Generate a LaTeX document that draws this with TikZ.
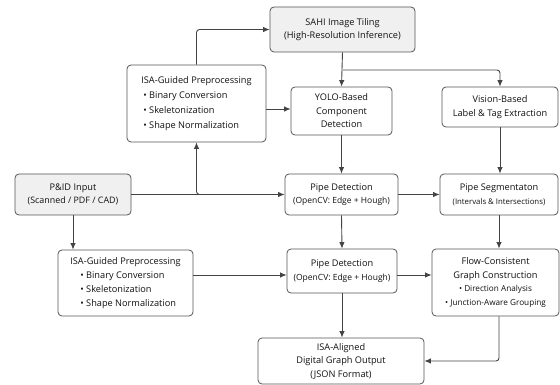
\documentclass[tikz,border=0pt]{standalone}
\usepackage{fontspec}
\setmainfont{Open Sans}
\usetikzlibrary{arrows.meta}
\definecolor{boxc}{HTML}{555555}
\definecolor{linec}{HTML}{444444}
\definecolor{gfill}{HTML}{F0F0F0}
\definecolor{txtc}{HTML}{111111}
\begin{document}
\begin{tikzpicture}[x=1pt,y=-1pt,
  box/.style={draw=boxc, line width=0.8pt, rounded corners=4pt, fill=white, inner sep=0pt,
    align=center, text=txtc, font=\fontsize{9.2}{13.5}\selectfont},
  gbox/.style={box, fill=gfill},
  conn/.style={draw=linec, line width=0.9pt, -{Latex[length=6.5pt,width=5.5pt]}, rounded corners=3pt}]
\fill[white] (0,0) rectangle (560,385);
\useasboundingbox (0,0) rectangle (560,385);
\newcommand{\sm}{\fontsize{8.5}{12}\selectfont}
\newcommand{\smb}{\fontsize{7.8}{11.5}\selectfont}
\newcommand{\bl}{\textbullet\ }

\node[gbox, minimum width=145pt, minimum height=45pt] (sahi) at (342.5,29.5)
  {SAHI Image Tiling\\(High-Resolution Inference)};
\node[box, minimum width=139pt, minimum height=77pt, align=left, font=\fontsize{9.2}{15}\selectfont] (isa1) at (196.5,103.5)
  {ISA-Guided Preprocessing\\\hspace*{2pt}\bl Binary Conversion\\\hspace*{2pt}\bl Skeletonization\\\hspace*{2pt}\bl Shape Normalization};
\node[box, minimum width=101pt, minimum height=48pt] (yolo) at (341.5,111)
  {YOLO-Based\\Component\\Detection};
\node[box, minimum width=116pt, minimum height=40pt] (vis) at (500,107)
  {Vision-Based\\Label \& Tag Extraction};
\node[gbox, minimum width=116pt, minimum height=41pt] (pid) at (73,194.5)
  {P\&ID Input\\{\fontsize{8.9}{12}\selectfont (Scanned / PDF / CAD)}};
\node[box, minimum width=113pt, minimum height=41pt] (pd1) at (341.5,194.5)
  {Pipe Detection\\{\sm (OpenCV: Edge + Hough)}};
\node[box, minimum width=118pt, minimum height=41pt] (seg) at (499,194.5)
  {Pipe Segmentaton\\{\smb (Intervals \& Intersections)}};
\node[box, minimum width=135pt, minimum height=66pt, align=left, font=\fontsize{9.2}{14}\selectfont] (isa2) at (125.5,283)
  {ISA-Guided Preprocessing\\\hspace*{10pt}\bl Binary Conversion\\\hspace*{10pt}\bl Skeletonization\\\hspace*{10pt}\bl Shape Normalization};
\node[box, minimum width=110pt, minimum height=44pt] (pd2) at (342,271)
  {Pipe Detection\\{\sm (OpenCV: Edge + Hough)}};
\node[box, minimum width=127pt, minimum height=67pt] (flow) at (495.5,282.5)
  {Flow-Consistent\\Graph Construction\\{\fontsize{8.2}{14}\selectfont \bl Direction Analysis}\\{\fontsize{8.2}{14}\selectfont \bl Junction-Aware Grouping}};
\node[box, minimum width=166pt, minimum height=46pt] (out) at (341,361)
  {ISA-Aligned\\Digital Graph Output\\(JSON Format)};

\draw[conn] (sahi.south) -- (yolo.north);
\draw[conn] (sahi.south |- 0,70) -| (vis.north);
\draw[conn] (isa1.north) |- (sahi.west);
\draw[conn] (isa1.east |- 0,109) -- (yolo.west |- 0,109);
\draw[conn] (pid.east) -- (pd1.west);
\draw[conn] (pid.east -| 250,0) -| (isa1.south);
\draw[conn] (pid.south) -- (pid.south |- isa2.north);
\draw[conn] (yolo.south) -- (pd1.north);
\draw[conn] (vis.south) -- (vis.south |- seg.north);
\draw[conn] (pd1.east) -- (seg.west);
\draw[conn] (isa2.east |- 0,275) -- (pd2.west |- 0,275);
\draw[conn] (pd1.south) -- (pd2.north);
\draw[conn] (seg.south) -- (seg.south |- flow.north);
\draw[conn] (pd2.east |- 0,275) -- (flow.west |- 0,275);
\draw[conn] (pd2.south) -- (pd2.south |- out.north);
\draw[conn] (flow.south -| seg.south) |- (out.east);
\end{tikzpicture}
\end{document}
